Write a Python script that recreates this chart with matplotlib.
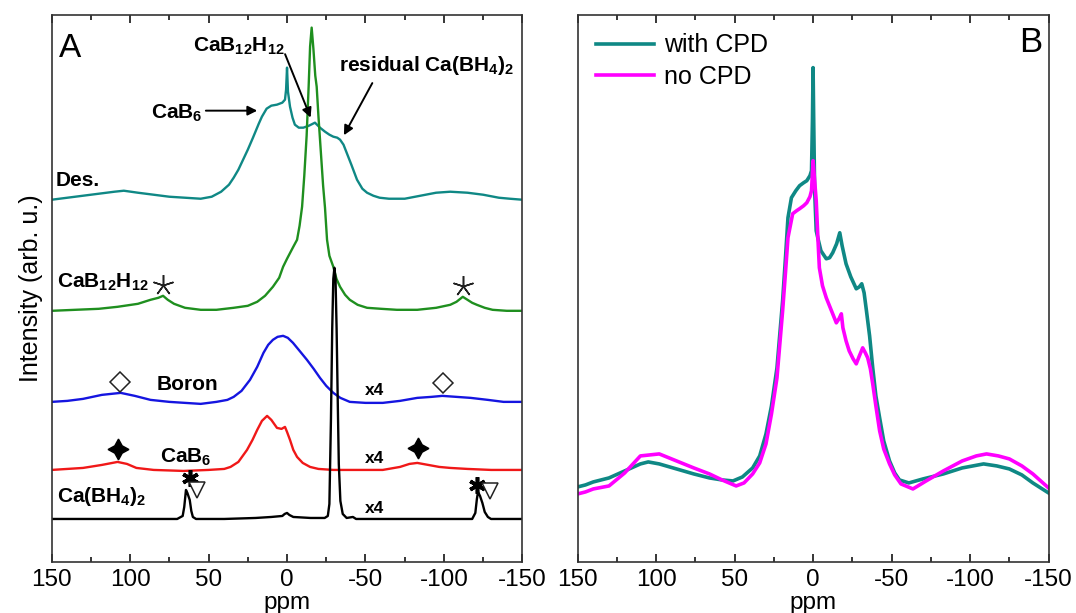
import matplotlib
matplotlib.use("Agg")
import matplotlib.pyplot as plt
import numpy as np
from matplotlib.ticker import MultipleLocator

plt.rcParams["font.family"] = ["Liberation Sans", "DejaVu Sans"]
plt.rcParams["axes.unicode_minus"] = False
plt.rcParams["mathtext.fontset"] = "custom"
plt.rcParams["mathtext.rm"] = "Liberation Sans:bold"
plt.rcParams["mathtext.it"] = "Liberation Sans:bold"
plt.rcParams["mathtext.bf"] = "Liberation Sans:bold"
plt.rcParams["mathtext.default"] = "rm"

# ---------------- Panel A: 11B MAS NMR spectra (stacked) ----------------
des_ppm = [150, 140, 130, 120, 110, 104, 95, 85, 75, 65, 55, 48, 42, 37, 34, 31, 28, 25,
           21.7, 18, 16, 13, 10, 6.4, 3, 1.3, 0.6, 0, -0.6, -1.9, -3.5, -5, -7.5, -10.4,
           -14, -17.8, -21, -24.2, -27, -29.5, -32, -33.8, -36, -38, -41, -44.6, -48, -51,
           -55, -59, -65, -75, -85, -95, -104, -115, -125, -135, -142, -150]
des_int = [0, 2, 4, 6, 8, 9, 7, 5, 3, 2, 1, 3, 8, 15, 22, 30, 40, 50,
           62, 76, 83, 91, 94, 95, 97, 100, 110, 132, 108, 93, 82, 75, 72, 72,
           74, 77, 72, 68, 65, 63, 62, 60, 55, 47, 35, 20, 11, 7,
           4, 2, 1, 1, 4, 7, 8, 7, 5, 2, 1, 0]

b12_ppm = [150, 135, 120, 108, 95, 87, 82, 79, 76, 72, 65, 55, 45, 34, 25, 19, 14, 9, 5,
           2.5, 0, -2, -4, -6.4, -8, -9.6, -11, -12.5, -13.8, -14.7, -15.7, -16.8, -18,
           -18.9, -20, -21.5, -23, -24.2, -25.5, -27, -29.5, -31.5, -33.8, -37, -40, -45,
           -51, -60, -70, -83, -95, -104, -108, -112, -115, -118, -121, -126, -131, -140, -150]
b12_int = [0, 1, 2, 4, 7, 11, 13, 15, 11, 7, 3, 1, 1, 3, 5, 9, 15, 24, 33,
           44, 52, 58, 64, 71, 85, 104, 135, 175, 225, 264, 283, 262, 235,
           224, 195, 160, 125, 103, 71, 55, 44, 32, 24, 16, 11, 6,
           3, 2, 1, 1, 3, 6, 9, 14, 11, 8, 6, 3, 1, 0, 0]

boron_ppm = [150, 140, 130, 118, 106, 97, 87, 75, 65, 55, 45, 38, 34, 29, 23.6, 19, 15, 12,
             9, 6, 2.5, -0.5, -3.8, -8, -12.7, -17, -21, -25, -29.5, -34, -40, -50, -61,
             -72, -83, -92, -99, -108, -117, -128, -138, -150]
boron_int = [0, 1, 3, 7, 9, 6, 2, 0, -1, -2, 0, 2, 5, 11, 22, 35, 49, 57,
             62, 65, 66, 64, 59, 51, 42, 33, 24, 16, 9, 4, 0, -1, -1,
             1, 4, 5, 6, 5, 4, 2, 0, 0]

cab6_ppm = [150, 130, 118, 108, 102, 96, 85, 66, 50, 40, 36, 31, 25.5, 22, 19, 16, 12.7,
            10, 6.4, 3.5, 1.3, 0, -1.9, -4, -6.4, -10, -14.7, -20, -29.5, -45, -61, -72,
            -78, -83, -90, -97, -104, -115, -130, -150]
cab6_int = [0, 2, 5, 8, 6, 2, 0, -1, 0, 1, 3, 8, 20, 30, 40, 49, 54,
            50, 42, 41, 43, 38, 30, 20, 13, 7, 3, 1, 0, 0, 0, 3,
            6, 7, 5, 3, 2, 1, 0, 0]

cabh4_ppm = [150, 100, 70, 66.5, 65.5, 64.4, 63.5, 62, 61, 60, 58, 40, 20, 10, 3, 1.5, 0,
             -1.5, -4, -15, -24, -26, -27, -28, -28.8, -29.5, -30.2, -30.9, -31.6, -32.3,
             -33, -34, -35.5, -38, -42, -44, -80, -118, -120, -121, -121.7, -123, -124.5,
             -126, -128, -130, -150]
cabh4_int = [0, 0, 0, 3, 12, 29, 26, 19, 8, 2, 0, 0, 1, 2, 3, 5, 6,
             4, 2, 1, 1, 3, 15, 100, 190, 240, 251, 240, 190, 120,
             55, 18, 5, 1, 2, 0, 0, 0, 6, 20, 27, 23, 16,
             7, 2, 0, 0]

stack_offsets = [362, 251, 160, 92, 43]

# ---------------- Panel B: with / without CPD ----------------
cpd_ppm = [150, 145, 140, 130, 120, 110, 105, 98, 87, 76, 66, 58, 51, 45, 38.5, 34, 30, 26.5,
           23, 19.4, 17.5, 16, 13.8, 11, 8.6, 6, 4, 2, 1, 0.4, 0, -0.4, -1, -2, -3, -5,
           -8.4, -10.5, -12.5, -15, -17, -18.5, -21, -24, -27.5, -29.5, -31, -32.5, -34,
           -36, -38, -40, -42.4, -45, -48.7, -52, -55, -61, -70, -83, -95, -108.6, -117,
           -125, -133, -140, -145, -150]
cpd_int = [75, 77, 80, 84, 91, 98, 100, 98, 93, 88, 84, 82, 81, 85, 94, 106, 128, 156,
           194, 261, 306, 344, 364, 371, 376, 379, 381, 386, 391, 441, 494, 441, 371, 331, 324, 311,
           303, 304, 309, 318, 329, 316, 298, 285, 273, 275, 278, 269, 251,
           226, 194, 166, 144, 121, 101, 89, 82, 79, 83, 88, 94, 98, 96,
           93, 87, 79, 74, 69]

nocpd_ppm = [150, 145, 140, 130, 120, 110, 98, 87, 76, 66, 58, 49, 44, 38.5, 34, 30, 26.5,
             23, 19.4, 17.5, 16, 13, 10.5, 8.6, 6, 4, 2, 1, 0, -1, -2, -3, -4, -6, -8.4,
             -12.5, -14.8, -16.5, -18, -19, -21, -23, -25.5, -27.5, -29.5, -31.6, -33.3,
             -34.8, -36.5, -38, -40, -42.4, -45, -48.7, -52, -56, -63.6, -72, -83, -95,
             -104, -110.5, -118, -125, -133, -140, -145, -150]
nocpd_int = [68, 70, 73, 76, 89, 106, 108, 101, 94, 88, 82, 76, 79, 88, 99, 118, 148,
             184, 251, 291, 324, 348, 351, 353, 356, 359, 365, 371, 401, 381, 361, 326, 294, 276, 264,
             248, 239, 243, 248, 234, 221, 211, 203, 198, 206, 214, 209,
             204, 193, 178, 156, 131, 113, 98, 87, 78, 73, 81, 91, 101,
             106, 108, 106, 103, 96, 88, 81, 74]

fig = plt.figure(figsize=(10.76, 6.13), dpi=100)
axA = fig.add_axes([0.048, 0.0832, 0.4375, 0.893])
axB = fig.add_axes([0.5368, 0.0832, 0.4377, 0.893])

teal = "#0f8885"
colors = [teal, "#1f8f1f", "#1515e0", "#f01818", "#000000"]
spectra = [(des_ppm, des_int), (b12_ppm, b12_int), (boron_ppm, boron_int),
           (cab6_ppm, cab6_int), (cabh4_ppm, cabh4_int)]
for (xp, yi), off, c in zip(spectra, stack_offsets, colors):
    axA.plot(xp, np.asarray(yi) + off, color=c, lw=1.7, solid_joinstyle="round")

for ax in (axA, axB):
    ax.set_xlim(150, -150)
    ax.set_ylim(0, 547)
    ax.xaxis.set_major_locator(MultipleLocator(50))
    ax.xaxis.set_minor_locator(MultipleLocator(25))
    ax.tick_params(axis="x", which="both", direction="in", top=True, labelsize=17.5,
                   pad=5)
    ax.tick_params(axis="x", which="major", length=6, width=1.1)
    ax.tick_params(axis="x", which="minor", length=3.5, width=1.1)
    ax.set_yticks([])
    for s in ax.spines.values():
        s.set_linewidth(1.2)
        s.set_color("#333333")
    ax.set_xlabel("ppm", fontsize=17.5, labelpad=1)

axA.set_ylabel("Intensity (arb. u.)", fontsize=18, labelpad=6)

# labels in panel A
bold = dict(fontsize=15, fontweight="bold", ha="left", va="baseline")
axA.text(145.6, 505, "A", fontsize=24, ha="left", va="baseline")
axA.text(147.4, 376, "Des.", **bold)
axA.text(146.6, 274, r"CaB$_{12}$H$_{12}$", **bold)
axA.text(82.9, 172, "Boron", **bold)
axA.text(81, 99, r"CaB$_{6}$", **bold)
axA.text(146.6, 60, r"Ca(BH$_{4}$)$_{2}$", **bold)
axA.text(60, 510, r"CaB$_{12}$H$_{12}$", **bold)
axA.text(-33.1, 491, r"residual Ca(BH$_{4}$)$_{2}$", **bold)
axA.text(86.4, 443, r"CaB$_{6}$", **bold)
for yb in (167, 99, 49):
    axA.text(-49.7, yb, "x4", fontsize=12.5, fontweight="bold", ha="left", va="baseline")

arrow = dict(arrowstyle="-|>", color="black", lw=1.4, mutation_scale=14)
axA.annotate("", xy=(-15.7, 441.5), xytext=(1.9, 510), arrowprops=arrow)
axA.annotate("", xy=(-35.4, 424), xytext=(-55.2, 481), arrowprops=arrow)
axA.annotate("", xy=(17.2, 451), xytext=(53.5, 451), arrowprops=arrow)

# spinning-sideband markers
axA.plot([79, -112.2], [277, 276], ls="none", marker=(5, 2, 0), ms=15, mew=1.1,
         color="#222222")
axA.plot([106.4, -99.4], [180, 179], ls="none", marker="D", ms=10, mfc="white",
         mec="#222222", mew=1.1)
axA.plot([107.7, -83.5], [113, 114], ls="none", marker=(4, 1, 0), ms=15, color="black")
axA.plot([61.8, -121], [84, 77], ls="none", marker=(6, 2, 0), ms=12, mew=2.6,
         color="black")
axA.plot([57.4, -129.4], [72, 71], ls="none", marker="v", ms=12, mfc="white",
         mec="#222222", mew=1.1)

# panel B
axB.plot(cpd_ppm, cpd_int, color=teal, lw=2.6, label="with CPD")
axB.plot(nocpd_ppm, nocpd_int, color="#ff00ff", lw=2.6, label="no CPD")
axB.text(-131.5, 510, "B", fontsize=25, ha="left", va="baseline")
axB.legend(loc="upper left", bbox_to_anchor=(0.0, 1.0), frameon=False, fontsize=18,
           handlelength=2.3, handletextpad=0.4, labelspacing=0.3, borderaxespad=0.45,
           borderpad=0.3)

fig.savefig("out.png", dpi=100)
